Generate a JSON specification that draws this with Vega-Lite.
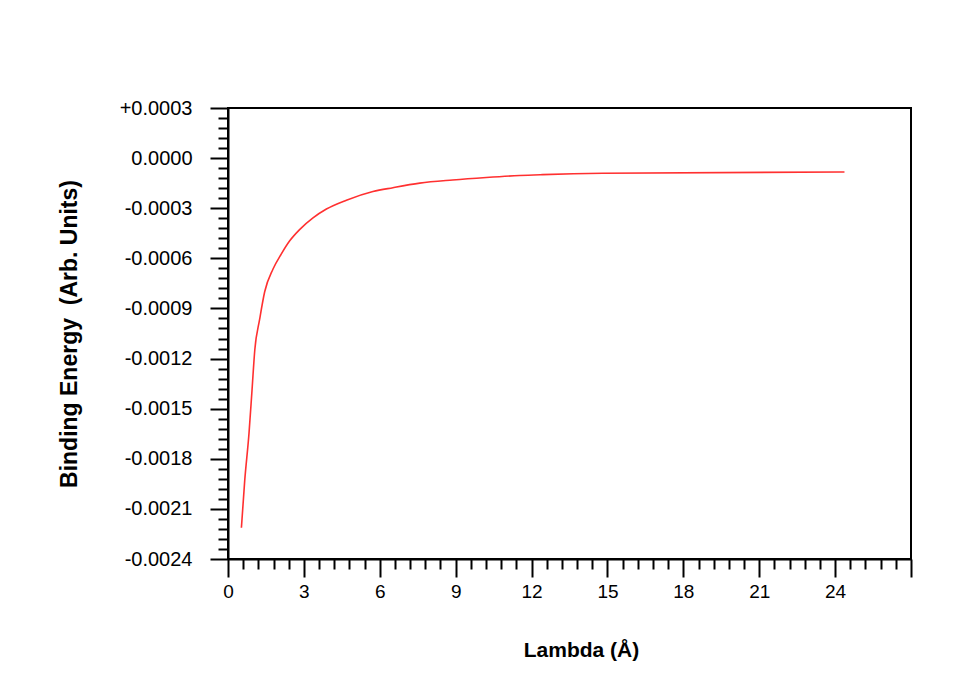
{
  "$schema": "https://vega.github.io/schema/vega-lite/v6.json",
  "autosize": {"type": "none"},
  "width": 683,
  "height": 451,
  "padding": {"left": 228, "top": 108, "right": 65, "bottom": 121},
  "background": "white",
  "config": {
    "view": {"stroke": "black", "strokeWidth": 2},
    "font": "Liberation Sans"
  },
  "data": {
    "values": [
      {"lambda": 0.53, "energy": -0.002213},
      {"lambda": 0.66, "energy": -0.001932},
      {"lambda": 0.83, "energy": -0.001648},
      {"lambda": 0.95, "energy": -0.001388},
      {"lambda": 1.06, "energy": -0.001147},
      {"lambda": 1.25, "energy": -0.000966},
      {"lambda": 1.45, "energy": -0.000800},
      {"lambda": 1.78, "energy": -0.000664},
      {"lambda": 2.11, "energy": -0.000573},
      {"lambda": 2.44, "energy": -0.000495},
      {"lambda": 2.83, "energy": -0.000428},
      {"lambda": 3.36, "energy": -0.000358},
      {"lambda": 3.89, "energy": -0.000305},
      {"lambda": 4.68, "energy": -0.000252},
      {"lambda": 5.73, "energy": -0.000200},
      {"lambda": 6.52, "energy": -0.000177},
      {"lambda": 7.58, "energy": -0.000150},
      {"lambda": 8.88, "energy": -0.000131},
      {"lambda": 10.21, "energy": -0.000116},
      {"lambda": 11.53, "energy": -0.000104},
      {"lambda": 12.44, "energy": -0.000099},
      {"lambda": 14.81, "energy": -0.000091},
      {"lambda": 24.37, "energy": -0.000083}
    ]
  },
  "mark": {"type": "line", "color": "#ff3030", "strokeWidth": 1.6, "clip": true, "interpolate": "monotone"},
  "encoding": {
    "x": {
      "field": "lambda",
      "type": "quantitative",
      "scale": {"domain": [0, 27], "nice": false, "zero": false},
      "axis": {
        "title": "Lambda (Å)",
        "titleFont": "Liberation Sans",
        "titleFontSize": 21,
        "titleFontWeight": "bold",
        "titleColor": "black",
        "titlePadding": 38,
        "titleX": 353,
        "values": [0, 0.6, 1.2, 1.8, 2.4, 3, 3.6, 4.2, 4.8, 5.4, 6, 6.6, 7.2, 7.8, 8.4, 9, 9.6, 10.2, 10.8, 11.4, 12, 12.6, 13.2, 13.8, 14.4, 15, 15.6, 16.2, 16.8, 17.4, 18, 18.6, 19.2, 19.8, 20.4, 21, 21.6, 22.2, 22.8, 23.4, 24, 24.6, 25.2, 25.8, 26.4, 27],
        "labelExpr": "(abs(datum.value/3 - round(datum.value/3)) < 0.01 && datum.value < 26) ? format(datum.value, '.0f') : ''",
        "labelFont": "Liberation Sans",
        "labelFontSize": 19,
        "labelColor": "black",
        "labelPadding": 5,
        "labelFlush": false,
        "labelOverlap": false,
        "grid": false,
        "domainColor": "black",
        "domainWidth": 2,
        "tickColor": "black",
        "tickWidth": 2,
        "tickSize": {"condition": {"test": "abs(datum.value/3 - round(datum.value/3)) < 0.01", "value": 18}, "value": 10}
      }
    },
    "y": {
      "field": "energy",
      "type": "quantitative",
      "scale": {"domain": [-0.0024, 0.0003], "nice": false, "zero": false},
      "axis": {
        "title": "Binding Energy\u00a0\u00a0(Arb. Units)",
        "titleFont": "Liberation Sans",
        "titleFontSize": 23,
        "titleFontWeight": "bold",
        "titleColor": "black",
        "titlePadding": 38,
        "values": [-0.0024, -0.00234, -0.00228, -0.00222, -0.00216, -0.0021, -0.00204, -0.00198, -0.00192, -0.00186, -0.0018, -0.00174, -0.00168, -0.00162, -0.00156, -0.0015, -0.00144, -0.00138, -0.00132, -0.00126, -0.0012, -0.00114, -0.00108, -0.00102, -0.00096, -0.0009, -0.00084, -0.00078, -0.00072, -0.00066, -0.0006, -0.00054, -0.00048, -0.00042, -0.00036, -0.0003, -0.00024, -0.00018, -0.00012, -0.00006, 0, 0.00006, 0.00012, 0.00018, 0.00024, 0.0003],
        "labelExpr": "abs(datum.value/0.0003 - round(datum.value/0.0003)) < 0.01 ? ((datum.value > 0.00001 ? '+' : '') + replace(format(datum.value, '.4f'), '\u2212', '-')) : ''",
        "labelFont": "Liberation Sans",
        "labelFontSize": 20,
        "labelColor": "black",
        "labelPadding": 18,
        "labelFlush": false,
        "labelOverlap": false,
        "grid": false,
        "domainColor": "black",
        "domainWidth": 2,
        "tickColor": "black",
        "tickWidth": 2,
        "tickSize": {"condition": {"test": "abs(datum.value/0.0003 - round(datum.value/0.0003)) < 0.01", "value": 18}, "value": 10}
      }
    }
  }
}
